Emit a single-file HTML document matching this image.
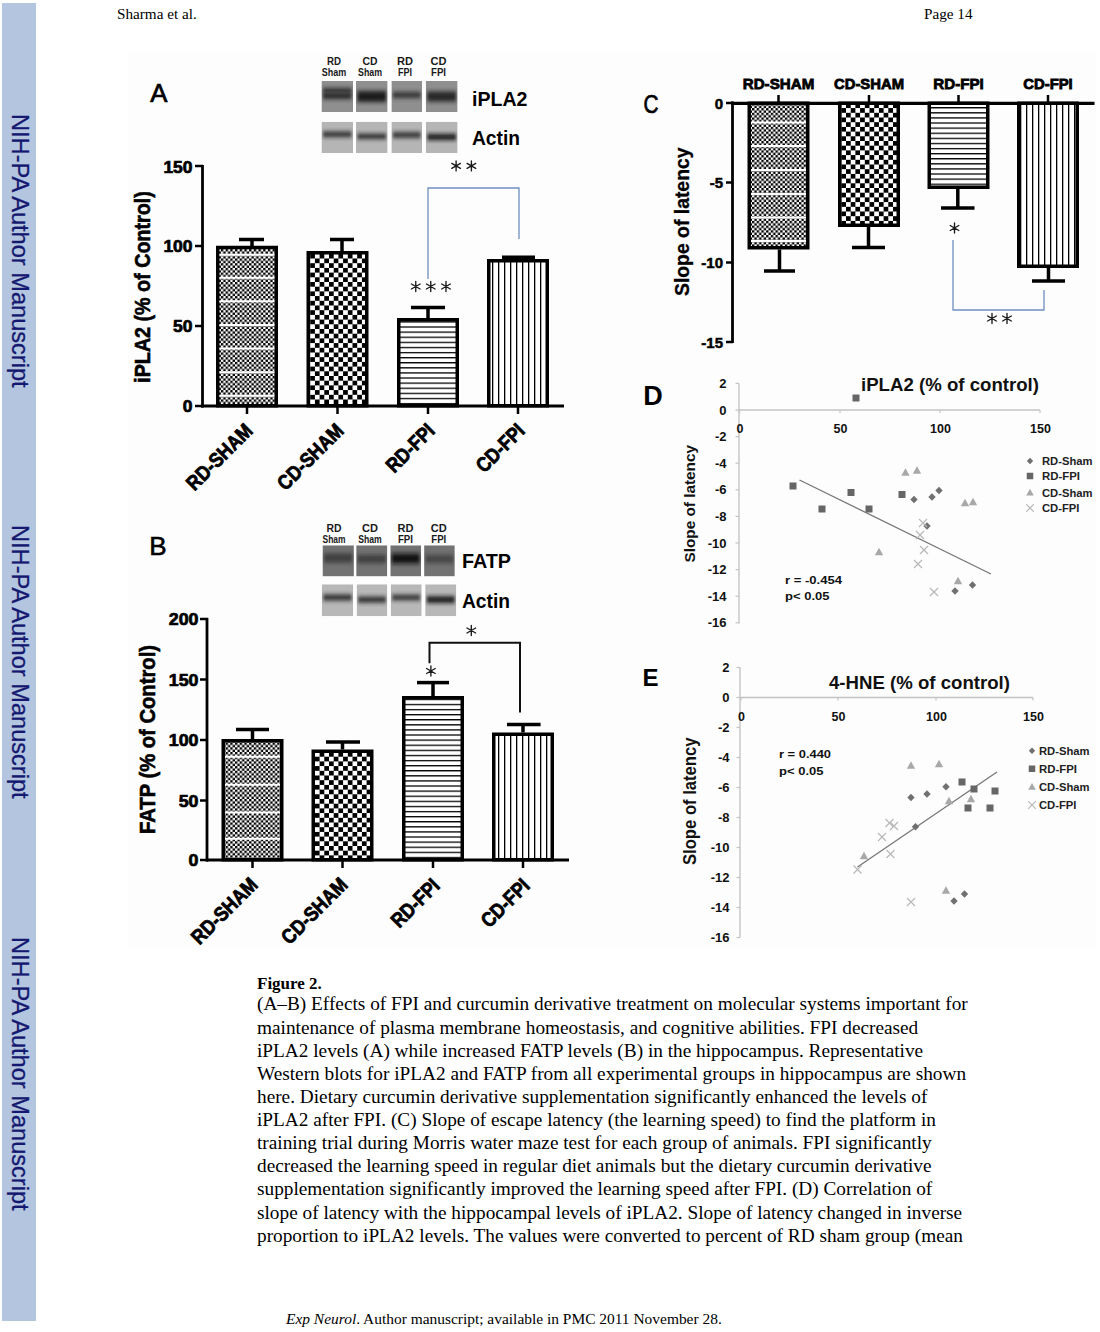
<!DOCTYPE html>
<html><head><meta charset="utf-8">
<style>
html,body{margin:0;padding:0;background:#fff;}
body{width:1100px;height:1332px;position:relative;overflow:hidden;}
.serif{font-family:"Liberation Serif",serif;color:#000;position:absolute;white-space:nowrap;}
#bar{position:absolute;left:1.5px;top:3px;width:34.5px;height:1318px;background:#b4c6df;}
.side{position:absolute;font-family:"Liberation Sans",sans-serif;font-size:23.6px;color:#141870;-webkit-text-stroke:0.3px #141870;white-space:nowrap;transform-origin:0 0;transform:rotate(90deg);}
#cap{position:absolute;left:257px;top:-0.6px;font-family:"Liberation Serif",serif;font-size:19.3px;line-height:23px;color:#000;}
#cap div{position:absolute;left:0;white-space:nowrap;}
svg{position:absolute;left:0;top:0;}
</style></head><body>
<div id="bar"></div>
<div class="side" style="left:33.2px;top:113.8px;">NIH-PA Author Manuscript</div>
<div class="side" style="left:33.2px;top:525.2px;">NIH-PA Author Manuscript</div>
<div class="side" style="left:33.2px;top:936.7px;">NIH-PA Author Manuscript</div>

<div class="serif" style="left:117px;top:5px;font-size:15.2px;">Sharma et al.</div>
<div class="serif" style="left:924px;top:5px;font-size:15.2px;">Page 14</div>

<svg width="1100" height="1332" viewBox="0 0 1100 1332" style="position:absolute;left:0;top:0"><defs>
<pattern id="p1" patternUnits="userSpaceOnUse" width="4.7" height="4.7"><rect width="4.7" height="4.7" fill="#fff"/><rect width="2.35" height="2.35" fill="#000"/><rect x="2.35" y="2.35" width="2.35" height="2.35" fill="#000"/></pattern>
<pattern id="p2" patternUnits="userSpaceOnUse" width="9.4" height="9.4"><rect width="9.4" height="9.4" fill="#fff"/><rect width="4.7" height="4.7" fill="#000"/><rect x="4.7" y="4.7" width="4.7" height="4.7" fill="#000"/></pattern>
<pattern id="p3" patternUnits="userSpaceOnUse" width="10" height="5.1"><rect width="10" height="5.1" fill="#fff"/><rect y="0" width="10" height="1.3" fill="#000"/></pattern>
<pattern id="p4" patternUnits="userSpaceOnUse" width="6" height="10"><rect width="6" height="10" fill="#fff"/><rect x="0" width="1.3" height="10" fill="#000"/></pattern>
<filter id="bb" x="-20%" y="-100%" width="140%" height="300%"><feGaussianBlur stdDeviation="1.5 2.3"/></filter>
<filter id="blur1" x="-10%" y="-10%" width="120%" height="120%"><feGaussianBlur stdDeviation="1.6"/></filter>
</defs><rect x="128" y="53" width="968" height="894" fill="#fdfdfd"/>
<text x="158.75" y="101.9" font-family="Liberation Sans" font-size="26.5" font-weight="normal" text-anchor="middle" fill="#000" textLength="17.2" lengthAdjust="spacingAndGlyphs" stroke="#000" stroke-width="0.7">A</text>
<svg x="321.5" y="81" width="31.5" height="31" viewBox="0 0 31.5 31" overflow="hidden">
<rect width="31.5" height="31" fill="#8f8f8f"/>
<rect x="1.5" y="7.0" width="28.5" height="5" fill="#262626" opacity="0.9" filter="url(#bb)"/>
<rect x="1.5" y="12.0" width="28.5" height="6" fill="#222" opacity="0.95" filter="url(#bb)"/>
</svg>
<svg x="356" y="81" width="31.600000000000023" height="31" viewBox="0 0 31.600000000000023 31" overflow="hidden">
<rect width="31.600000000000023" height="31" fill="#8f8f8f"/>
<rect x="1.5" y="10.0" width="28.600000000000023" height="11" fill="#1c1c1c" opacity="1" filter="url(#bb)"/>
</svg>
<svg x="391.4" y="81" width="30.600000000000023" height="31" viewBox="0 0 30.600000000000023 31" overflow="hidden">
<rect width="30.600000000000023" height="31" fill="#8f8f8f"/>
<rect x="1.5" y="11.0" width="27.600000000000023" height="6" fill="#2a2a2a" opacity="0.9" filter="url(#bb)"/>
</svg>
<svg x="425.8" y="81" width="31.80000000000001" height="31" viewBox="0 0 31.80000000000001 31" overflow="hidden">
<rect width="31.80000000000001" height="31" fill="#8f8f8f"/>
<rect x="1.5" y="10.5" width="28.80000000000001" height="10" fill="#222" opacity="0.95" filter="url(#bb)"/>
</svg>
<svg x="321.5" y="121.8" width="31.5" height="31.200000000000003" viewBox="0 0 31.5 31.200000000000003" overflow="hidden">
<rect width="31.5" height="31.200000000000003" fill="#b5b5b5"/>
<rect x="1.5" y="9.750000000000014" width="28.5" height="5.5" fill="#222" opacity="0.92" filter="url(#bb)"/>
</svg>
<svg x="356" y="121.8" width="31.600000000000023" height="31.200000000000003" viewBox="0 0 31.600000000000023 31.200000000000003" overflow="hidden">
<rect width="31.600000000000023" height="31.200000000000003" fill="#b5b5b5"/>
<rect x="1.5" y="12.100000000000009" width="28.600000000000023" height="5" fill="#1e1e1e" opacity="0.95" filter="url(#bb)"/>
</svg>
<svg x="391.4" y="121.8" width="30.600000000000023" height="31.200000000000003" viewBox="0 0 30.600000000000023 31.200000000000003" overflow="hidden">
<rect width="30.600000000000023" height="31.200000000000003" fill="#b5b5b5"/>
<rect x="1.5" y="10.450000000000003" width="27.600000000000023" height="5.5" fill="#222" opacity="0.92" filter="url(#bb)"/>
</svg>
<svg x="425.8" y="121.8" width="31.80000000000001" height="31.200000000000003" viewBox="0 0 31.80000000000001 31.200000000000003" overflow="hidden">
<rect width="31.80000000000001" height="31.200000000000003" fill="#b5b5b5"/>
<rect x="1.5" y="12.200000000000003" width="28.80000000000001" height="6" fill="#141414" opacity="1" filter="url(#bb)"/>
</svg>
<text x="334" y="64.5" font-family="Liberation Sans" font-size="10" font-weight="bold" text-anchor="middle" fill="#1a1a1a" textLength="14" lengthAdjust="spacingAndGlyphs">RD</text>
<text x="334" y="76" font-family="Liberation Sans" font-size="10" font-weight="bold" text-anchor="middle" fill="#1a1a1a" textLength="24.5" lengthAdjust="spacingAndGlyphs">Sham</text>
<text x="370" y="64.5" font-family="Liberation Sans" font-size="10" font-weight="bold" text-anchor="middle" fill="#1a1a1a" textLength="15" lengthAdjust="spacingAndGlyphs">CD</text>
<text x="370" y="76" font-family="Liberation Sans" font-size="10" font-weight="bold" text-anchor="middle" fill="#1a1a1a" textLength="24" lengthAdjust="spacingAndGlyphs">Sham</text>
<text x="405" y="64.5" font-family="Liberation Sans" font-size="10" font-weight="bold" text-anchor="middle" fill="#1a1a1a" textLength="16" lengthAdjust="spacingAndGlyphs">RD</text>
<text x="405" y="76" font-family="Liberation Sans" font-size="10" font-weight="bold" text-anchor="middle" fill="#1a1a1a" textLength="14" lengthAdjust="spacingAndGlyphs">FPI</text>
<text x="438.5" y="64.5" font-family="Liberation Sans" font-size="10" font-weight="bold" text-anchor="middle" fill="#1a1a1a" textLength="16" lengthAdjust="spacingAndGlyphs">CD</text>
<text x="438.5" y="76" font-family="Liberation Sans" font-size="10" font-weight="bold" text-anchor="middle" fill="#1a1a1a" textLength="15" lengthAdjust="spacingAndGlyphs">FPI</text>
<text x="472" y="105.5" font-family="Liberation Sans" font-size="21" font-weight="bold" text-anchor="start" fill="#000" textLength="55.5" lengthAdjust="spacingAndGlyphs">iPLA2</text>
<text x="472" y="145" font-family="Liberation Sans" font-size="21" font-weight="bold" text-anchor="start" fill="#000" textLength="48" lengthAdjust="spacingAndGlyphs">Actin</text>
<line x1="202.5" y1="165" x2="202.5" y2="407.5" stroke="#000" stroke-width="2.8" stroke-linecap="butt"/>
<line x1="201" y1="406" x2="564" y2="406" stroke="#000" stroke-width="3" stroke-linecap="butt"/>
<line x1="195" y1="166" x2="203" y2="166" stroke="#000" stroke-width="2.5" stroke-linecap="butt"/>
<line x1="195" y1="246" x2="203" y2="246" stroke="#000" stroke-width="2.5" stroke-linecap="butt"/>
<line x1="195" y1="326" x2="203" y2="326" stroke="#000" stroke-width="2.5" stroke-linecap="butt"/>
<line x1="195" y1="406" x2="203" y2="406" stroke="#000" stroke-width="2.5" stroke-linecap="butt"/>
<text x="192.5" y="172.5" font-family="Liberation Sans" font-size="16.5" font-weight="bold" text-anchor="end" fill="#000" textLength="29.099999999999998" lengthAdjust="spacingAndGlyphs" stroke="#000" stroke-width="0.7">150</text>
<text x="192.5" y="252.2" font-family="Liberation Sans" font-size="16.5" font-weight="bold" text-anchor="end" fill="#000" textLength="29.099999999999998" lengthAdjust="spacingAndGlyphs" stroke="#000" stroke-width="0.7">100</text>
<text x="192.5" y="332.2" font-family="Liberation Sans" font-size="16.5" font-weight="bold" text-anchor="end" fill="#000" textLength="19.4" lengthAdjust="spacingAndGlyphs" stroke="#000" stroke-width="0.7">50</text>
<text x="192.5" y="412.2" font-family="Liberation Sans" font-size="16.5" font-weight="bold" text-anchor="end" fill="#000" textLength="9.7" lengthAdjust="spacingAndGlyphs" stroke="#000" stroke-width="0.7">0</text>
<text x="150" y="287" font-family="Liberation Sans" font-size="22" font-weight="bold" text-anchor="middle" fill="#000" textLength="191.5" lengthAdjust="spacingAndGlyphs" transform="rotate(-90 150 287)" stroke="#000" stroke-width="0.6">iPLA2 (% of Control)</text>
<rect x="217.75" y="247.5" width="58.5" height="158.25" fill="url(#p1)" stroke="#000" stroke-width="3.5"/>
<line x1="247" y1="406" x2="247" y2="414" stroke="#000" stroke-width="2.5" stroke-linecap="butt"/>
<rect x="308.25" y="252.75" width="58.5" height="153.0" fill="url(#p2)" stroke="#000" stroke-width="3.5"/>
<line x1="337.5" y1="406" x2="337.5" y2="414" stroke="#000" stroke-width="2.5" stroke-linecap="butt"/>
<rect x="398.75" y="319.75" width="58.5" height="86.0" fill="url(#p3)" stroke="#000" stroke-width="3.5"/>
<line x1="428" y1="406" x2="428" y2="414" stroke="#000" stroke-width="2.5" stroke-linecap="butt"/>
<rect x="488.75" y="260.75" width="58.5" height="145.0" fill="url(#p4)" stroke="#000" stroke-width="3.5"/>
<line x1="518" y1="406" x2="518" y2="414" stroke="#000" stroke-width="2.5" stroke-linecap="butt"/>
<line x1="219.5" y1="254.7" x2="274.5" y2="254.7" stroke="#fff" stroke-width="2" stroke-linecap="butt"/>
<line x1="219.5" y1="277.7" x2="274.5" y2="277.7" stroke="#fff" stroke-width="2" stroke-linecap="butt"/>
<line x1="219.5" y1="301.3" x2="274.5" y2="301.3" stroke="#fff" stroke-width="2" stroke-linecap="butt"/>
<line x1="219.5" y1="324.9" x2="274.5" y2="324.9" stroke="#fff" stroke-width="2" stroke-linecap="butt"/>
<line x1="219.5" y1="348.6" x2="274.5" y2="348.6" stroke="#fff" stroke-width="2" stroke-linecap="butt"/>
<line x1="219.5" y1="372.2" x2="274.5" y2="372.2" stroke="#fff" stroke-width="2" stroke-linecap="butt"/>
<line x1="219.5" y1="395.8" x2="274.5" y2="395.8" stroke="#fff" stroke-width="2" stroke-linecap="butt"/>
<line x1="252" y1="246" x2="252" y2="239.5" stroke="#000" stroke-width="3.5" stroke-linecap="butt"/>
<line x1="239" y1="239.5" x2="264" y2="239.5" stroke="#000" stroke-width="3.5" stroke-linecap="butt"/>
<line x1="342" y1="251" x2="342" y2="239.5" stroke="#000" stroke-width="3.5" stroke-linecap="butt"/>
<line x1="330" y1="239.5" x2="354" y2="239.5" stroke="#000" stroke-width="3.5" stroke-linecap="butt"/>
<line x1="428" y1="318" x2="428" y2="307.5" stroke="#000" stroke-width="3.5" stroke-linecap="butt"/>
<line x1="411" y1="307.5" x2="445" y2="307.5" stroke="#000" stroke-width="3.5" stroke-linecap="butt"/>
<line x1="518" y1="259" x2="518" y2="257.2" stroke="#000" stroke-width="3.5" stroke-linecap="butt"/>
<line x1="502" y1="257.2" x2="535" y2="257.2" stroke="#000" stroke-width="3.5" stroke-linecap="butt"/>
<polyline points="428,279 428,188 519,188 519,239" fill="none" stroke="#6f8fc0" stroke-width="1.3"/>
<path d="M456.10,160.90L456.10,170.90M451.77,163.40L460.43,168.40M460.43,163.40L451.77,168.40" stroke="#1a1a1a" stroke-width="1.35" stroke-linecap="round"/>
<path d="M471.40,160.90L471.40,170.90M467.07,163.40L475.73,168.40M475.73,163.40L467.07,168.40" stroke="#1a1a1a" stroke-width="1.35" stroke-linecap="round"/>
<path d="M415.75,281.50L415.75,291.50M411.42,284.00L420.08,289.00M420.08,284.00L411.42,289.00" stroke="#1a1a1a" stroke-width="1.35" stroke-linecap="round"/>
<path d="M430.75,281.50L430.75,291.50M426.42,284.00L435.08,289.00M435.08,284.00L426.42,289.00" stroke="#1a1a1a" stroke-width="1.35" stroke-linecap="round"/>
<path d="M446.00,281.50L446.00,291.50M441.67,284.00L450.33,289.00M450.33,284.00L441.67,289.00" stroke="#1a1a1a" stroke-width="1.35" stroke-linecap="round"/>
<text x="254" y="432" font-family="Liberation Sans" font-size="20.5" font-weight="bold" text-anchor="end" fill="#000" textLength="84" lengthAdjust="spacingAndGlyphs" transform="rotate(-45 254 432)" stroke="#000" stroke-width="0.8">RD-SHAM</text>
<text x="345" y="432" font-family="Liberation Sans" font-size="20.5" font-weight="bold" text-anchor="end" fill="#000" textLength="84" lengthAdjust="spacingAndGlyphs" transform="rotate(-45 345 432)" stroke="#000" stroke-width="0.8">CD-SHAM</text>
<text x="436" y="432" font-family="Liberation Sans" font-size="20.5" font-weight="bold" text-anchor="end" fill="#000" textLength="59" lengthAdjust="spacingAndGlyphs" transform="rotate(-45 436 432)" stroke="#000" stroke-width="0.8">RD-FPI</text>
<text x="526" y="432" font-family="Liberation Sans" font-size="20.5" font-weight="bold" text-anchor="end" fill="#000" textLength="59" lengthAdjust="spacingAndGlyphs" transform="rotate(-45 526 432)" stroke="#000" stroke-width="0.8">CD-FPI</text>
<text x="158" y="555" font-family="Liberation Sans" font-size="26" font-weight="normal" text-anchor="middle" fill="#000" stroke="#000" stroke-width="0.6">B</text>
<svg x="322.5" y="545.3" width="31.399999999999977" height="31.100000000000023" viewBox="0 0 31.399999999999977 31.100000000000023" overflow="hidden">
<rect width="31.399999999999977" height="31.100000000000023" fill="#727272"/>
<rect x="1.5" y="8.200000000000045" width="28.399999999999977" height="9" fill="#2a2a2a" opacity="0.7" filter="url(#bb)"/>
</svg>
<svg x="356.2" y="545.3" width="31.100000000000023" height="31.100000000000023" viewBox="0 0 31.100000000000023 31.100000000000023" overflow="hidden">
<rect width="31.100000000000023" height="31.100000000000023" fill="#727272"/>
<rect x="1.5" y="9.700000000000045" width="28.100000000000023" height="8" fill="#2a2a2a" opacity="0.7" filter="url(#bb)"/>
</svg>
<svg x="390.3" y="545.3" width="30.80000000000001" height="31.100000000000023" viewBox="0 0 30.80000000000001 31.100000000000023" overflow="hidden">
<rect width="30.80000000000001" height="31.100000000000023" fill="#727272"/>
<rect x="1.5" y="8.200000000000045" width="27.80000000000001" height="10" fill="#111" opacity="0.95" filter="url(#bb)"/>
</svg>
<svg x="424.1" y="545.3" width="30.69999999999999" height="31.100000000000023" viewBox="0 0 30.69999999999999 31.100000000000023" overflow="hidden">
<rect width="30.69999999999999" height="31.100000000000023" fill="#727272"/>
<rect x="1.5" y="9.700000000000045" width="27.69999999999999" height="8" fill="#2a2a2a" opacity="0.6" filter="url(#bb)"/>
</svg>
<svg x="321.8" y="584.3" width="31.399999999999977" height="31.90000000000009" viewBox="0 0 31.399999999999977 31.90000000000009" overflow="hidden">
<rect width="31.399999999999977" height="31.90000000000009" fill="#b8b8b8"/>
<rect x="1.5" y="10.200000000000045" width="28.399999999999977" height="6" fill="#222" opacity="0.92" filter="url(#bb)"/>
</svg>
<svg x="356.6" y="584.3" width="30.69999999999999" height="31.90000000000009" viewBox="0 0 30.69999999999999 31.90000000000009" overflow="hidden">
<rect width="30.69999999999999" height="31.90000000000009" fill="#b8b8b8"/>
<rect x="1.5" y="12.300000000000068" width="27.69999999999999" height="6" fill="#222" opacity="0.92" filter="url(#bb)"/>
</svg>
<svg x="390.7" y="584.3" width="31.0" height="31.90000000000009" viewBox="0 0 31.0 31.90000000000009" overflow="hidden">
<rect width="31.0" height="31.90000000000009" fill="#b8b8b8"/>
<rect x="1.5" y="10.450000000000045" width="28.0" height="5.5" fill="#222" opacity="0.9" filter="url(#bb)"/>
</svg>
<svg x="425.2" y="584.3" width="31.0" height="31.90000000000009" viewBox="0 0 31.0 31.90000000000009" overflow="hidden">
<rect width="31.0" height="31.90000000000009" fill="#b8b8b8"/>
<rect x="1.5" y="12.050000000000068" width="28.0" height="6.5" fill="#141414" opacity="1" filter="url(#bb)"/>
</svg>
<text x="334" y="531.6" font-family="Liberation Sans" font-size="10" font-weight="bold" text-anchor="middle" fill="#1a1a1a" textLength="15" lengthAdjust="spacingAndGlyphs">RD</text>
<text x="334" y="543" font-family="Liberation Sans" font-size="10" font-weight="bold" text-anchor="middle" fill="#1a1a1a" textLength="23" lengthAdjust="spacingAndGlyphs">Sham</text>
<text x="369.9" y="531.6" font-family="Liberation Sans" font-size="10" font-weight="bold" text-anchor="middle" fill="#1a1a1a" textLength="16" lengthAdjust="spacingAndGlyphs">CD</text>
<text x="369.9" y="543" font-family="Liberation Sans" font-size="10" font-weight="bold" text-anchor="middle" fill="#1a1a1a" textLength="23.5" lengthAdjust="spacingAndGlyphs">Sham</text>
<text x="405.4" y="531.6" font-family="Liberation Sans" font-size="10" font-weight="bold" text-anchor="middle" fill="#1a1a1a" textLength="16" lengthAdjust="spacingAndGlyphs">RD</text>
<text x="405.4" y="543" font-family="Liberation Sans" font-size="10" font-weight="bold" text-anchor="middle" fill="#1a1a1a" textLength="15" lengthAdjust="spacingAndGlyphs">FPI</text>
<text x="438.8" y="531.6" font-family="Liberation Sans" font-size="10" font-weight="bold" text-anchor="middle" fill="#1a1a1a" textLength="16" lengthAdjust="spacingAndGlyphs">CD</text>
<text x="438.8" y="543" font-family="Liberation Sans" font-size="10" font-weight="bold" text-anchor="middle" fill="#1a1a1a" textLength="15" lengthAdjust="spacingAndGlyphs">FPI</text>
<text x="462" y="568" font-family="Liberation Sans" font-size="20" font-weight="bold" text-anchor="start" fill="#000" textLength="49" lengthAdjust="spacingAndGlyphs">FATP</text>
<text x="462" y="608" font-family="Liberation Sans" font-size="20" font-weight="bold" text-anchor="start" fill="#000" textLength="48" lengthAdjust="spacingAndGlyphs">Actin</text>
<line x1="207" y1="618" x2="207" y2="861.5" stroke="#000" stroke-width="2.8" stroke-linecap="butt"/>
<line x1="206" y1="860" x2="569" y2="860" stroke="#000" stroke-width="3" stroke-linecap="butt"/>
<line x1="200" y1="619" x2="208" y2="619" stroke="#000" stroke-width="2.5" stroke-linecap="butt"/>
<line x1="200" y1="679.5" x2="208" y2="679.5" stroke="#000" stroke-width="2.5" stroke-linecap="butt"/>
<line x1="200" y1="740" x2="208" y2="740" stroke="#000" stroke-width="2.5" stroke-linecap="butt"/>
<line x1="200" y1="800.5" x2="208" y2="800.5" stroke="#000" stroke-width="2.5" stroke-linecap="butt"/>
<line x1="200" y1="860" x2="208" y2="860" stroke="#000" stroke-width="2.5" stroke-linecap="butt"/>
<text x="198.5" y="625" font-family="Liberation Sans" font-size="16.5" font-weight="bold" text-anchor="end" fill="#000" textLength="29.700000000000003" lengthAdjust="spacingAndGlyphs" stroke="#000" stroke-width="0.7">200</text>
<text x="198.5" y="685.5" font-family="Liberation Sans" font-size="16.5" font-weight="bold" text-anchor="end" fill="#000" textLength="29.700000000000003" lengthAdjust="spacingAndGlyphs" stroke="#000" stroke-width="0.7">150</text>
<text x="198.5" y="746" font-family="Liberation Sans" font-size="16.5" font-weight="bold" text-anchor="end" fill="#000" textLength="29.700000000000003" lengthAdjust="spacingAndGlyphs" stroke="#000" stroke-width="0.7">100</text>
<text x="198.5" y="806.5" font-family="Liberation Sans" font-size="16.5" font-weight="bold" text-anchor="end" fill="#000" textLength="19.8" lengthAdjust="spacingAndGlyphs" stroke="#000" stroke-width="0.7">50</text>
<text x="198.5" y="866" font-family="Liberation Sans" font-size="16.5" font-weight="bold" text-anchor="end" fill="#000" textLength="9.9" lengthAdjust="spacingAndGlyphs" stroke="#000" stroke-width="0.7">0</text>
<text x="155" y="739.5" font-family="Liberation Sans" font-size="22" font-weight="bold" text-anchor="middle" fill="#000" textLength="189" lengthAdjust="spacingAndGlyphs" transform="rotate(-90 155 739.5)" stroke="#000" stroke-width="0.6">FATP (% of Control)</text>
<rect x="223.25" y="740.75" width="58.5" height="119.0" fill="url(#p1)" stroke="#000" stroke-width="3.5"/>
<line x1="252.5" y1="860" x2="252.5" y2="868" stroke="#000" stroke-width="2.5" stroke-linecap="butt"/>
<rect x="313.25" y="751.25" width="58.5" height="108.5" fill="url(#p2)" stroke="#000" stroke-width="3.5"/>
<line x1="342.5" y1="860" x2="342.5" y2="868" stroke="#000" stroke-width="2.5" stroke-linecap="butt"/>
<rect x="403.75" y="697.75" width="58.5" height="162.0" fill="url(#p3)" stroke="#000" stroke-width="3.5"/>
<line x1="433" y1="860" x2="433" y2="868" stroke="#000" stroke-width="2.5" stroke-linecap="butt"/>
<rect x="493.75" y="734.25" width="58.5" height="125.5" fill="url(#p4)" stroke="#000" stroke-width="3.5"/>
<line x1="523" y1="860" x2="523" y2="868" stroke="#000" stroke-width="2.5" stroke-linecap="butt"/>
<line x1="225.0" y1="756.8" x2="280.0" y2="756.8" stroke="#fff" stroke-width="2" stroke-linecap="butt"/>
<line x1="225.0" y1="784.7" x2="280.0" y2="784.7" stroke="#fff" stroke-width="2" stroke-linecap="butt"/>
<line x1="225.0" y1="812.5" x2="280.0" y2="812.5" stroke="#fff" stroke-width="2" stroke-linecap="butt"/>
<line x1="225.0" y1="838.8" x2="280.0" y2="838.8" stroke="#fff" stroke-width="2" stroke-linecap="butt"/>
<line x1="252.5" y1="739" x2="252.5" y2="729.5" stroke="#000" stroke-width="3.5" stroke-linecap="butt"/>
<line x1="236" y1="729.5" x2="269" y2="729.5" stroke="#000" stroke-width="3.5" stroke-linecap="butt"/>
<line x1="342.5" y1="749.5" x2="342.5" y2="742" stroke="#000" stroke-width="3.5" stroke-linecap="butt"/>
<line x1="326" y1="742" x2="360" y2="742" stroke="#000" stroke-width="3.5" stroke-linecap="butt"/>
<line x1="433" y1="696" x2="433" y2="682.6" stroke="#000" stroke-width="3.5" stroke-linecap="butt"/>
<line x1="417" y1="682.6" x2="449" y2="682.6" stroke="#000" stroke-width="3.5" stroke-linecap="butt"/>
<line x1="523" y1="732.5" x2="523" y2="724.5" stroke="#000" stroke-width="3.5" stroke-linecap="butt"/>
<line x1="507" y1="724.5" x2="540.6" y2="724.5" stroke="#000" stroke-width="3.5" stroke-linecap="butt"/>
<polyline points="429.5,663.3 429.5,642.8 520,642.8 520,712.5" fill="none" stroke="#111" stroke-width="2"/>
<path d="M471.30,625.50L471.30,635.50M466.97,628.00L475.63,633.00M475.63,628.00L466.97,633.00" stroke="#1a1a1a" stroke-width="1.35" stroke-linecap="round"/>
<path d="M430.90,666.00L430.90,676.00M426.57,668.50L435.23,673.50M435.23,668.50L426.57,673.50" stroke="#1a1a1a" stroke-width="1.35" stroke-linecap="round"/>
<text x="259" y="886" font-family="Liberation Sans" font-size="20.5" font-weight="bold" text-anchor="end" fill="#000" textLength="84" lengthAdjust="spacingAndGlyphs" transform="rotate(-45 259 886)" stroke="#000" stroke-width="0.8">RD-SHAM</text>
<text x="349" y="886" font-family="Liberation Sans" font-size="20.5" font-weight="bold" text-anchor="end" fill="#000" textLength="84" lengthAdjust="spacingAndGlyphs" transform="rotate(-45 349 886)" stroke="#000" stroke-width="0.8">CD-SHAM</text>
<text x="441" y="887" font-family="Liberation Sans" font-size="20.5" font-weight="bold" text-anchor="end" fill="#000" textLength="59" lengthAdjust="spacingAndGlyphs" transform="rotate(-45 441 887)" stroke="#000" stroke-width="0.8">RD-FPI</text>
<text x="531" y="887" font-family="Liberation Sans" font-size="20.5" font-weight="bold" text-anchor="end" fill="#000" textLength="59" lengthAdjust="spacingAndGlyphs" transform="rotate(-45 531 887)" stroke="#000" stroke-width="0.8">CD-FPI</text>
<text x="651" y="112.5" font-family="Liberation Sans" font-size="25" font-weight="normal" text-anchor="middle" fill="#000" textLength="15" lengthAdjust="spacingAndGlyphs" stroke="#000" stroke-width="0.7">C</text>
<line x1="732.5" y1="101.5" x2="732.5" y2="343" stroke="#000" stroke-width="2.8" stroke-linecap="butt"/>
<line x1="731" y1="103.3" x2="1094.5" y2="103.3" stroke="#000" stroke-width="3.2" stroke-linecap="butt"/>
<line x1="726" y1="103" x2="733" y2="103" stroke="#000" stroke-width="2.5" stroke-linecap="butt"/>
<line x1="726" y1="182.5" x2="733" y2="182.5" stroke="#000" stroke-width="2.5" stroke-linecap="butt"/>
<line x1="726" y1="262.5" x2="733" y2="262.5" stroke="#000" stroke-width="2.5" stroke-linecap="butt"/>
<line x1="726" y1="342" x2="733" y2="342" stroke="#000" stroke-width="2.5" stroke-linecap="butt"/>
<text x="723" y="108.5" font-family="Liberation Sans" font-size="15" font-weight="bold" text-anchor="end" fill="#000" stroke="#000" stroke-width="0.5">0</text>
<text x="723" y="188.0" font-family="Liberation Sans" font-size="15" font-weight="bold" text-anchor="end" fill="#000" stroke="#000" stroke-width="0.5">-5</text>
<text x="723" y="268.0" font-family="Liberation Sans" font-size="15" font-weight="bold" text-anchor="end" fill="#000" stroke="#000" stroke-width="0.5">-10</text>
<text x="723" y="347.5" font-family="Liberation Sans" font-size="15" font-weight="bold" text-anchor="end" fill="#000" stroke="#000" stroke-width="0.5">-15</text>
<text x="689" y="221.75" font-family="Liberation Sans" font-size="20" font-weight="bold" text-anchor="middle" fill="#000" textLength="148.5" lengthAdjust="spacingAndGlyphs" transform="rotate(-90 689 221.75)" stroke="#000" stroke-width="0.3">Slope of latency</text>
<rect x="749.25" y="103.25" width="58.5" height="144.5" fill="url(#p1)" stroke="#000" stroke-width="3.5"/>
<line x1="778.5" y1="95" x2="778.5" y2="103" stroke="#000" stroke-width="2.5" stroke-linecap="butt"/>
<rect x="839.75" y="103.25" width="58.5" height="122.0" fill="url(#p2)" stroke="#000" stroke-width="3.5"/>
<line x1="869" y1="95" x2="869" y2="103" stroke="#000" stroke-width="2.5" stroke-linecap="butt"/>
<rect x="929.25" y="103.25" width="58.5" height="84.0" fill="url(#p3)" stroke="#000" stroke-width="3.5"/>
<line x1="958.5" y1="95" x2="958.5" y2="103" stroke="#000" stroke-width="2.5" stroke-linecap="butt"/>
<rect x="1018.75" y="103.25" width="58.5" height="163.0" fill="url(#p4)" stroke="#000" stroke-width="3.5"/>
<line x1="1048" y1="95" x2="1048" y2="103" stroke="#000" stroke-width="2.5" stroke-linecap="butt"/>
<line x1="751.0" y1="122.6" x2="806.0" y2="122.6" stroke="#fff" stroke-width="2" stroke-linecap="butt"/>
<line x1="751.0" y1="146" x2="806.0" y2="146" stroke="#fff" stroke-width="2" stroke-linecap="butt"/>
<line x1="751.0" y1="170" x2="806.0" y2="170" stroke="#fff" stroke-width="2" stroke-linecap="butt"/>
<line x1="751.0" y1="194" x2="806.0" y2="194" stroke="#fff" stroke-width="2" stroke-linecap="butt"/>
<line x1="751.0" y1="217.5" x2="806.0" y2="217.5" stroke="#fff" stroke-width="2" stroke-linecap="butt"/>
<line x1="751.0" y1="241" x2="806.0" y2="241" stroke="#fff" stroke-width="2" stroke-linecap="butt"/>
<line x1="779.5" y1="249.5" x2="779.5" y2="271" stroke="#000" stroke-width="3.5" stroke-linecap="butt"/>
<line x1="764" y1="271" x2="795" y2="271" stroke="#000" stroke-width="3.5" stroke-linecap="butt"/>
<line x1="868.5" y1="227" x2="868.5" y2="247.5" stroke="#000" stroke-width="3.5" stroke-linecap="butt"/>
<line x1="852" y1="247.5" x2="885" y2="247.5" stroke="#000" stroke-width="3.5" stroke-linecap="butt"/>
<line x1="957.8" y1="189" x2="957.8" y2="208" stroke="#000" stroke-width="3.5" stroke-linecap="butt"/>
<line x1="941" y1="208" x2="974.5" y2="208" stroke="#000" stroke-width="3.5" stroke-linecap="butt"/>
<line x1="1048.5" y1="268" x2="1048.5" y2="281" stroke="#000" stroke-width="3.5" stroke-linecap="butt"/>
<line x1="1032" y1="281" x2="1065" y2="281" stroke="#000" stroke-width="3.5" stroke-linecap="butt"/>
<text x="778.5" y="88.5" font-family="Liberation Sans" font-size="15.2" font-weight="bold" text-anchor="middle" fill="#000" textLength="71.5" lengthAdjust="spacingAndGlyphs" stroke="#000" stroke-width="0.8">RD-SHAM</text>
<text x="869" y="88.5" font-family="Liberation Sans" font-size="15.2" font-weight="bold" text-anchor="middle" fill="#000" textLength="70" lengthAdjust="spacingAndGlyphs" stroke="#000" stroke-width="0.8">CD-SHAM</text>
<text x="958.5" y="88.5" font-family="Liberation Sans" font-size="15.2" font-weight="bold" text-anchor="middle" fill="#000" textLength="50.5" lengthAdjust="spacingAndGlyphs" stroke="#000" stroke-width="0.8">RD-FPI</text>
<text x="1048" y="88.5" font-family="Liberation Sans" font-size="15.2" font-weight="bold" text-anchor="middle" fill="#000" textLength="49.5" lengthAdjust="spacingAndGlyphs" stroke="#000" stroke-width="0.8">CD-FPI</text>
<path d="M954.50,223.00L954.50,233.00M950.17,225.50L958.83,230.50M958.83,225.50L950.17,230.50" stroke="#1a1a1a" stroke-width="1.35" stroke-linecap="round"/>
<polyline points="953,240 953,310 1044,310 1044,290" fill="none" stroke="#6f8fc0" stroke-width="1.3"/>
<path d="M992.00,313.50L992.00,323.50M987.67,316.00L996.33,321.00M996.33,316.00L987.67,321.00" stroke="#1a1a1a" stroke-width="1.35" stroke-linecap="round"/>
<path d="M1007.00,313.50L1007.00,323.50M1002.67,316.00L1011.33,321.00M1011.33,316.00L1002.67,321.00" stroke="#1a1a1a" stroke-width="1.35" stroke-linecap="round"/>
<text x="653" y="404.5" font-family="Liberation Sans" font-size="27" font-weight="bold" text-anchor="middle" fill="#000">D</text>
<line x1="739" y1="383.5" x2="739" y2="623.5" stroke="#c4c4c4" stroke-width="1.4" stroke-linecap="butt"/>
<line x1="735.5" y1="383.4" x2="739" y2="383.4" stroke="#c4c4c4" stroke-width="1.2" stroke-linecap="butt"/>
<text x="726.5" y="388.0" font-family="Liberation Sans" font-size="13" font-weight="bold" text-anchor="end" fill="#111">2</text>
<line x1="735.5" y1="410.0" x2="739" y2="410.0" stroke="#c4c4c4" stroke-width="1.2" stroke-linecap="butt"/>
<text x="726.5" y="414.6" font-family="Liberation Sans" font-size="13" font-weight="bold" text-anchor="end" fill="#111">0</text>
<line x1="735.5" y1="436.6" x2="739" y2="436.6" stroke="#c4c4c4" stroke-width="1.2" stroke-linecap="butt"/>
<text x="726.5" y="441.20000000000005" font-family="Liberation Sans" font-size="13" font-weight="bold" text-anchor="end" fill="#111">-2</text>
<line x1="735.5" y1="463.2" x2="739" y2="463.2" stroke="#c4c4c4" stroke-width="1.2" stroke-linecap="butt"/>
<text x="726.5" y="467.8" font-family="Liberation Sans" font-size="13" font-weight="bold" text-anchor="end" fill="#111">-4</text>
<line x1="735.5" y1="489.8" x2="739" y2="489.8" stroke="#c4c4c4" stroke-width="1.2" stroke-linecap="butt"/>
<text x="726.5" y="494.40000000000003" font-family="Liberation Sans" font-size="13" font-weight="bold" text-anchor="end" fill="#111">-6</text>
<line x1="735.5" y1="516.4" x2="739" y2="516.4" stroke="#c4c4c4" stroke-width="1.2" stroke-linecap="butt"/>
<text x="726.5" y="521.0" font-family="Liberation Sans" font-size="13" font-weight="bold" text-anchor="end" fill="#111">-8</text>
<line x1="735.5" y1="543.0" x2="739" y2="543.0" stroke="#c4c4c4" stroke-width="1.2" stroke-linecap="butt"/>
<text x="726.5" y="547.6" font-family="Liberation Sans" font-size="13" font-weight="bold" text-anchor="end" fill="#111">-10</text>
<line x1="735.5" y1="569.6" x2="739" y2="569.6" stroke="#c4c4c4" stroke-width="1.2" stroke-linecap="butt"/>
<text x="726.5" y="574.2" font-family="Liberation Sans" font-size="13" font-weight="bold" text-anchor="end" fill="#111">-12</text>
<line x1="735.5" y1="596.2" x2="739" y2="596.2" stroke="#c4c4c4" stroke-width="1.2" stroke-linecap="butt"/>
<text x="726.5" y="600.8000000000001" font-family="Liberation Sans" font-size="13" font-weight="bold" text-anchor="end" fill="#111">-14</text>
<line x1="735.5" y1="622.8" x2="739" y2="622.8" stroke="#c4c4c4" stroke-width="1.2" stroke-linecap="butt"/>
<text x="726.5" y="627.4" font-family="Liberation Sans" font-size="13" font-weight="bold" text-anchor="end" fill="#111">-16</text>
<line x1="739" y1="410" x2="1040" y2="410" stroke="#c4c4c4" stroke-width="1.6" stroke-linecap="butt"/>
<line x1="739.5" y1="410" x2="739.5" y2="413" stroke="#c4c4c4" stroke-width="1.2" stroke-linecap="butt"/>
<text x="740.0" y="433.2" font-family="Liberation Sans" font-size="12.5" font-weight="bold" text-anchor="middle" fill="#111">0</text>
<line x1="840" y1="410" x2="840" y2="413" stroke="#c4c4c4" stroke-width="1.2" stroke-linecap="butt"/>
<text x="840.5" y="433.2" font-family="Liberation Sans" font-size="12.5" font-weight="bold" text-anchor="middle" fill="#111">50</text>
<line x1="940" y1="410" x2="940" y2="413" stroke="#c4c4c4" stroke-width="1.2" stroke-linecap="butt"/>
<text x="940.5" y="433.2" font-family="Liberation Sans" font-size="12.5" font-weight="bold" text-anchor="middle" fill="#111">100</text>
<line x1="1040" y1="410" x2="1040" y2="413" stroke="#c4c4c4" stroke-width="1.2" stroke-linecap="butt"/>
<text x="1040.5" y="433.2" font-family="Liberation Sans" font-size="12.5" font-weight="bold" text-anchor="middle" fill="#111">150</text>
<text x="950" y="391" font-family="Liberation Sans" font-size="18.6" font-weight="bold" text-anchor="middle" fill="#111" textLength="178" lengthAdjust="spacingAndGlyphs">iPLA2 (% of control)</text>
<text x="695" y="503.75" font-family="Liberation Sans" font-size="15.5" font-weight="bold" text-anchor="middle" fill="#111" textLength="117.5" lengthAdjust="spacingAndGlyphs" transform="rotate(-90 695 503.75)">Slope of latency</text>
<text x="785" y="584" font-family="Liberation Sans" font-size="11.5" font-weight="bold" text-anchor="start" fill="#111" textLength="57" lengthAdjust="spacingAndGlyphs">r = -0.454</text>
<text x="785" y="600" font-family="Liberation Sans" font-size="11.5" font-weight="bold" text-anchor="start" fill="#111" textLength="44.5" lengthAdjust="spacingAndGlyphs">p&lt; 0.05</text>
<line x1="799.5" y1="480" x2="991" y2="574" stroke="#777" stroke-width="1.3" stroke-linecap="butt"/>
<rect x="852.5" y="394.5" width="7" height="7" fill="#666"/>
<rect x="789.5" y="482.5" width="7" height="7" fill="#666"/>
<rect x="818.5" y="505.5" width="7" height="7" fill="#666"/>
<rect x="847.5" y="489.0" width="7" height="7" fill="#666"/>
<rect x="865.5" y="505.5" width="7" height="7" fill="#666"/>
<rect x="898.5" y="491.0" width="7" height="7" fill="#666"/>
<polygon points="905.5,468.3 909.7,475.86 901.3,475.86" fill="#a8a8a8"/>
<polygon points="917,466.3 921.2,473.86 912.8,473.86" fill="#a8a8a8"/>
<polygon points="965,498.8 969.2,506.36 960.8,506.36" fill="#a8a8a8"/>
<polygon points="973,497.8 977.2,505.36 968.8,505.36" fill="#a8a8a8"/>
<polygon points="879,547.8 883.2,555.36 874.8,555.36" fill="#a8a8a8"/>
<polygon points="958,576.8 962.2,584.36 953.8,584.36" fill="#a8a8a8"/>
<polygon points="914,495.8 917.7,499.5 914,503.2 910.3,499.5" fill="#707070"/>
<polygon points="932,493.3 935.7,497 932,500.7 928.3,497" fill="#707070"/>
<polygon points="939,486.8 942.7,490.5 939,494.2 935.3,490.5" fill="#707070"/>
<polygon points="927,522.3 930.7,526 927,529.7 923.3,526" fill="#707070"/>
<polygon points="955,587.3 958.7,591 955,594.7 951.3,591" fill="#707070"/>
<polygon points="972.5,581.3 976.2,585 972.5,588.7 968.8,585" fill="#707070"/>
<path d="M919,519L927,527M927,519L919,527" stroke="#b8b8b8" stroke-width="1.2"/>
<path d="M916,531L924,539M924,531L916,539" stroke="#b8b8b8" stroke-width="1.2"/>
<path d="M920,546L928,554M928,546L920,554" stroke="#b8b8b8" stroke-width="1.2"/>
<path d="M914,560L922,568M922,560L914,568" stroke="#b8b8b8" stroke-width="1.2"/>
<path d="M930,588L938,596M938,588L930,596" stroke="#b8b8b8" stroke-width="1.2"/>
<polygon points="1030,457.8 1033.2,461 1030,464.2 1026.8,461" fill="#707070"/>
<rect x="1026.75" y="472.75" width="6.5" height="6.5" fill="#666"/>
<polygon points="1030,488.7 1033.8,495.54 1026.2,495.54" fill="#a8a8a8"/>
<path d="M1026.2,504.2L1033.8,511.8M1033.8,504.2L1026.2,511.8" stroke="#b8b8b8" stroke-width="1.2"/>
<text x="1042" y="465" font-family="Liberation Sans" font-size="11.5" font-weight="bold" text-anchor="start" fill="#222" textLength="50.5" lengthAdjust="spacingAndGlyphs">RD-Sham</text>
<text x="1042" y="480" font-family="Liberation Sans" font-size="11.5" font-weight="bold" text-anchor="start" fill="#222" textLength="38" lengthAdjust="spacingAndGlyphs">RD-FPI</text>
<text x="1042" y="496.5" font-family="Liberation Sans" font-size="11.5" font-weight="bold" text-anchor="start" fill="#222" textLength="50.5" lengthAdjust="spacingAndGlyphs">CD-Sham</text>
<text x="1042" y="512" font-family="Liberation Sans" font-size="11.5" font-weight="bold" text-anchor="start" fill="#222" textLength="37.5" lengthAdjust="spacingAndGlyphs">CD-FPI</text>
<text x="650.5" y="686" font-family="Liberation Sans" font-size="24" font-weight="bold" text-anchor="middle" fill="#000">E</text>
<line x1="740" y1="667" x2="740" y2="937.5" stroke="#c4c4c4" stroke-width="1.4" stroke-linecap="butt"/>
<line x1="736.5" y1="667.5" x2="740" y2="667.5" stroke="#c4c4c4" stroke-width="1.2" stroke-linecap="butt"/>
<text x="729.5" y="672.1" font-family="Liberation Sans" font-size="13" font-weight="bold" text-anchor="end" fill="#111">2</text>
<line x1="736.5" y1="697.5" x2="740" y2="697.5" stroke="#c4c4c4" stroke-width="1.2" stroke-linecap="butt"/>
<text x="729.5" y="702.1" font-family="Liberation Sans" font-size="13" font-weight="bold" text-anchor="end" fill="#111">0</text>
<line x1="736.5" y1="727.5" x2="740" y2="727.5" stroke="#c4c4c4" stroke-width="1.2" stroke-linecap="butt"/>
<text x="729.5" y="732.1" font-family="Liberation Sans" font-size="13" font-weight="bold" text-anchor="end" fill="#111">-2</text>
<line x1="736.5" y1="757.5" x2="740" y2="757.5" stroke="#c4c4c4" stroke-width="1.2" stroke-linecap="butt"/>
<text x="729.5" y="762.1" font-family="Liberation Sans" font-size="13" font-weight="bold" text-anchor="end" fill="#111">-4</text>
<line x1="736.5" y1="787.5" x2="740" y2="787.5" stroke="#c4c4c4" stroke-width="1.2" stroke-linecap="butt"/>
<text x="729.5" y="792.1" font-family="Liberation Sans" font-size="13" font-weight="bold" text-anchor="end" fill="#111">-6</text>
<line x1="736.5" y1="817.5" x2="740" y2="817.5" stroke="#c4c4c4" stroke-width="1.2" stroke-linecap="butt"/>
<text x="729.5" y="822.1" font-family="Liberation Sans" font-size="13" font-weight="bold" text-anchor="end" fill="#111">-8</text>
<line x1="736.5" y1="847.5" x2="740" y2="847.5" stroke="#c4c4c4" stroke-width="1.2" stroke-linecap="butt"/>
<text x="729.5" y="852.1" font-family="Liberation Sans" font-size="13" font-weight="bold" text-anchor="end" fill="#111">-10</text>
<line x1="736.5" y1="877.5" x2="740" y2="877.5" stroke="#c4c4c4" stroke-width="1.2" stroke-linecap="butt"/>
<text x="729.5" y="882.1" font-family="Liberation Sans" font-size="13" font-weight="bold" text-anchor="end" fill="#111">-12</text>
<line x1="736.5" y1="907.5" x2="740" y2="907.5" stroke="#c4c4c4" stroke-width="1.2" stroke-linecap="butt"/>
<text x="729.5" y="912.1" font-family="Liberation Sans" font-size="13" font-weight="bold" text-anchor="end" fill="#111">-14</text>
<line x1="736.5" y1="937.5" x2="740" y2="937.5" stroke="#c4c4c4" stroke-width="1.2" stroke-linecap="butt"/>
<text x="729.5" y="942.1" font-family="Liberation Sans" font-size="13" font-weight="bold" text-anchor="end" fill="#111">-16</text>
<line x1="740" y1="697.5" x2="1033" y2="697.5" stroke="#c4c4c4" stroke-width="1.6" stroke-linecap="butt"/>
<line x1="741" y1="697.5" x2="741" y2="700.5" stroke="#c4c4c4" stroke-width="1.2" stroke-linecap="butt"/>
<text x="741.5" y="721" font-family="Liberation Sans" font-size="12.5" font-weight="bold" text-anchor="middle" fill="#111">0</text>
<line x1="838" y1="697.5" x2="838" y2="700.5" stroke="#c4c4c4" stroke-width="1.2" stroke-linecap="butt"/>
<text x="838.5" y="721" font-family="Liberation Sans" font-size="12.5" font-weight="bold" text-anchor="middle" fill="#111">50</text>
<line x1="936" y1="697.5" x2="936" y2="700.5" stroke="#c4c4c4" stroke-width="1.2" stroke-linecap="butt"/>
<text x="936.5" y="721" font-family="Liberation Sans" font-size="12.5" font-weight="bold" text-anchor="middle" fill="#111">100</text>
<line x1="1033" y1="697.5" x2="1033" y2="700.5" stroke="#c4c4c4" stroke-width="1.2" stroke-linecap="butt"/>
<text x="1033.5" y="721" font-family="Liberation Sans" font-size="12.5" font-weight="bold" text-anchor="middle" fill="#111">150</text>
<text x="919.5" y="689" font-family="Liberation Sans" font-size="18.6" font-weight="bold" text-anchor="middle" fill="#111" textLength="181" lengthAdjust="spacingAndGlyphs">4-HNE (% of control)</text>
<text x="696" y="801.25" font-family="Liberation Sans" font-size="17.5" font-weight="bold" text-anchor="middle" fill="#111" textLength="127.5" lengthAdjust="spacingAndGlyphs" transform="rotate(-90 696 801.25)">Slope of latency</text>
<text x="779" y="758" font-family="Liberation Sans" font-size="11.5" font-weight="bold" text-anchor="start" fill="#111" textLength="52" lengthAdjust="spacingAndGlyphs">r = 0.440</text>
<text x="779" y="775" font-family="Liberation Sans" font-size="11.5" font-weight="bold" text-anchor="start" fill="#111" textLength="44.5" lengthAdjust="spacingAndGlyphs">p&lt; 0.05</text>
<line x1="857.5" y1="867" x2="997" y2="772" stroke="#777" stroke-width="1.3" stroke-linecap="butt"/>
<rect x="958.5" y="778.5" width="7" height="7" fill="#666"/>
<rect x="970.5" y="785.5" width="7" height="7" fill="#666"/>
<rect x="991.5" y="787.5" width="7" height="7" fill="#666"/>
<rect x="964.5" y="804.5" width="7" height="7" fill="#666"/>
<rect x="986.5" y="804.5" width="7" height="7" fill="#666"/>
<polygon points="911,761.3 915.2,768.86 906.8,768.86" fill="#a8a8a8"/>
<polygon points="939,759.8 943.2,767.36 934.8,767.36" fill="#a8a8a8"/>
<polygon points="949,796.8 953.2,804.36 944.8,804.36" fill="#a8a8a8"/>
<polygon points="971,794.8 975.2,802.36 966.8,802.36" fill="#a8a8a8"/>
<polygon points="864,851.8 868.2,859.36 859.8,859.36" fill="#a8a8a8"/>
<polygon points="946,886.3 950.2,893.86 941.8,893.86" fill="#a8a8a8"/>
<polygon points="911,793.8 914.7,797.5 911,801.2 907.3,797.5" fill="#707070"/>
<polygon points="927,790.3 930.7,794 927,797.7 923.3,794" fill="#707070"/>
<polygon points="946,783.05 949.7,786.75 946,790.45 942.3,786.75" fill="#707070"/>
<polygon points="915.5,823.05 919.2,826.75 915.5,830.45 911.8,826.75" fill="#707070"/>
<polygon points="954,897.3 957.7,901 954,904.7 950.3,901" fill="#707070"/>
<polygon points="964.5,890.3 968.2,894 964.5,897.7 960.8,894" fill="#707070"/>
<path d="M885.5,819L893.5,827M893.5,819L885.5,827" stroke="#b8b8b8" stroke-width="1.2"/>
<path d="M890,822L898,830M898,822L890,830" stroke="#b8b8b8" stroke-width="1.2"/>
<path d="M878,833L886,841M886,833L878,841" stroke="#b8b8b8" stroke-width="1.2"/>
<path d="M886.5,850L894.5,858M894.5,850L886.5,858" stroke="#b8b8b8" stroke-width="1.2"/>
<path d="M853.5,865.5L861.5,873.5M861.5,865.5L853.5,873.5" stroke="#b8b8b8" stroke-width="1.2"/>
<path d="M907,898L915,906M915,898L907,906" stroke="#b8b8b8" stroke-width="1.2"/>
<polygon points="1032,747.55 1035.2,750.75 1032,753.95 1028.8,750.75" fill="#707070"/>
<rect x="1028.75" y="765.5" width="6.5" height="6.5" fill="#666"/>
<polygon points="1032,782.95 1035.8,789.79 1028.2,789.79" fill="#a8a8a8"/>
<path d="M1028.2,801.2L1035.8,808.8M1035.8,801.2L1028.2,808.8" stroke="#b8b8b8" stroke-width="1.2"/>
<text x="1039" y="754.75" font-family="Liberation Sans" font-size="11.5" font-weight="bold" text-anchor="start" fill="#222" textLength="50.5" lengthAdjust="spacingAndGlyphs">RD-Sham</text>
<text x="1039" y="772.75" font-family="Liberation Sans" font-size="11.5" font-weight="bold" text-anchor="start" fill="#222" textLength="38" lengthAdjust="spacingAndGlyphs">RD-FPI</text>
<text x="1039" y="790.75" font-family="Liberation Sans" font-size="11.5" font-weight="bold" text-anchor="start" fill="#222" textLength="50.5" lengthAdjust="spacingAndGlyphs">CD-Sham</text>
<text x="1039" y="809" font-family="Liberation Sans" font-size="11.5" font-weight="bold" text-anchor="start" fill="#222" textLength="37.5" lengthAdjust="spacingAndGlyphs">CD-FPI</text></svg>

<div id="cap">
<div style="top:973px;font-weight:bold;font-size:17px;">Figure 2.</div>
<div style="top:993.00px;">(A–B) Effects of FPI and curcumin derivative treatment on molecular systems important for</div>
<div style="top:1016.13px;">maintenance of plasma membrane homeostasis, and cognitive abilities. FPI decreased</div>
<div style="top:1039.26px;">iPLA2 levels (A) while increased FATP levels (B) in the hippocampus. Representative</div>
<div style="top:1062.39px;">Western blots for iPLA2 and FATP from all experimental groups in hippocampus are shown</div>
<div style="top:1085.52px;">here. Dietary curcumin derivative supplementation significantly enhanced the levels of</div>
<div style="top:1108.65px;">iPLA2 after FPI. (C) Slope of escape latency (the learning speed) to find the platform in</div>
<div style="top:1131.78px;">training trial during Morris water maze test for each group of animals. FPI significantly</div>
<div style="top:1154.91px;">decreased the learning speed in regular diet animals but the dietary curcumin derivative</div>
<div style="top:1178.04px;">supplementation significantly improved the learning speed after FPI. (D) Correlation of</div>
<div style="top:1201.17px;">slope of latency with the hippocampal levels of iPLA2. Slope of latency changed in inverse</div>
<div style="top:1224.30px;">proportion to iPLA2 levels. The values were converted to percent of RD sham group (mean</div>
</div>

<div class="serif" style="left:286px;top:1310px;font-size:15.45px;"><i>Exp Neurol</i>. Author manuscript; available in PMC 2011 November 28.</div>
</body></html>
